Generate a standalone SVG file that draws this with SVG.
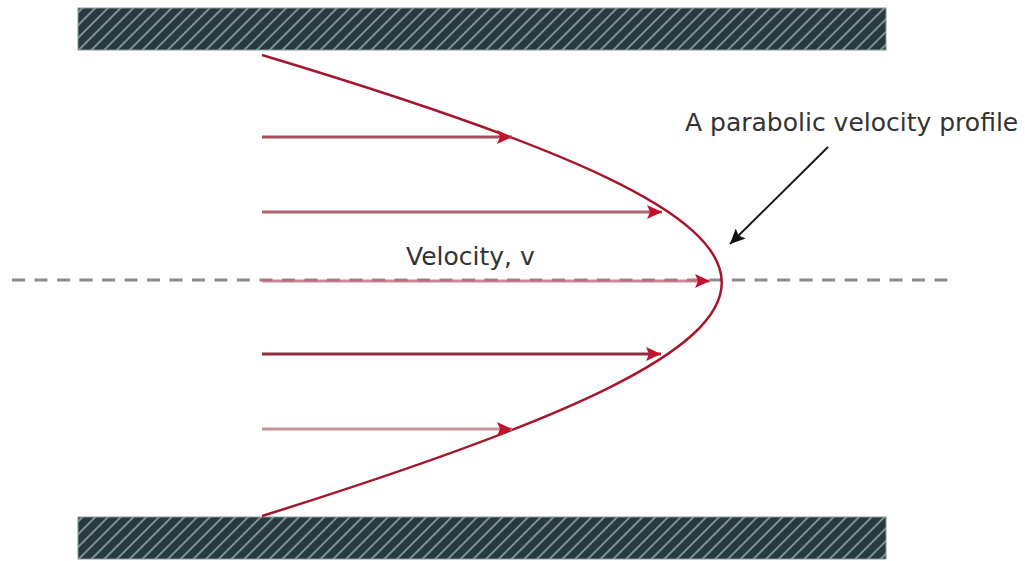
<svg xmlns="http://www.w3.org/2000/svg" width="1025" height="561" viewBox="0 0 1025 561">
<style>
.wall{fill:url(#hatch);stroke:#8a9699;stroke-width:1}
.vel{stroke-width:3;fill:none;marker-end:url(#redhead)}
.lbl{font-family:"DejaVu Sans",sans-serif;font-size:25px;fill:#333}
</style>
<defs>
<pattern id="hatch" patternUnits="userSpaceOnUse" width="9" height="9" patternTransform="rotate(45)">
<rect width="9" height="9" fill="#263a3f"/>
<line x1="1" y1="0" x2="1" y2="9" stroke="#7d9094" stroke-width="2"/>
</pattern>
<marker id="redhead" markerUnits="userSpaceOnUse" markerWidth="16" markerHeight="14" refX="15" refY="7" orient="auto">
<path d="M0,0 L15,7 L0,14 L3,7 Z" fill="#c0142c"/>
</marker>
<marker id="blackhead" markerUnits="userSpaceOnUse" markerWidth="16" markerHeight="14" refX="15" refY="7" orient="auto">
<path d="M0,0 L15,7 L0,14 L3,7 Z" fill="#111"/>
</marker>
</defs>
<g id="wall-top"><rect class="wall" x="78" y="8" width="808" height="42"/></g>
<g id="wall-bottom"><rect class="wall" x="78" y="517" width="808" height="42"/></g>
<g id="centerline"><line x1="12" y1="280" x2="950" y2="280" stroke="#8c8c8c" stroke-width="3" stroke-dasharray="13 9.5"/></g>
<g id="profile"><path d="M262,55 C875,239 875,324 262,516" fill="none" stroke="#a3172e" stroke-width="2.5"/></g>
<g id="connectors">
<line class="vel" x1="262" y1="137" x2="512" y2="137" stroke="#a3505c"/>
<line class="vel" x1="262" y1="212" x2="662" y2="212" stroke="#b06470"/>
<line class="vel" x1="262" y1="281" x2="710" y2="281" stroke="#c06a78" stroke-opacity="0.8"/>
<line class="vel" x1="262" y1="354" x2="661" y2="354" stroke="#8c2e40"/>
<line class="vel" x1="262" y1="429" x2="512" y2="429" stroke="#c89098"/>
<line x1="828" y1="147" x2="730" y2="244" stroke="#1a1a1a" stroke-width="2" marker-end="url(#blackhead)"/>
</g>
<g id="label-velocity"><text class="lbl" x="406" y="265">Velocity, v</text></g>
<g id="label-profile"><text class="lbl" x="685" y="131">A parabolic velocity profile</text></g>
</svg>
